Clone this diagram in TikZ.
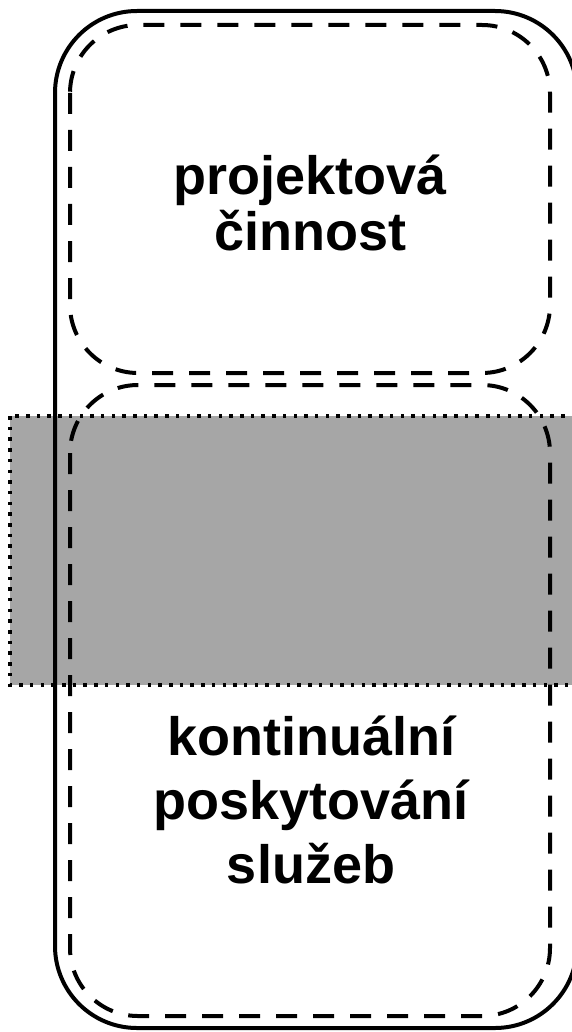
\documentclass[tikz,border=0pt]{standalone}
\usepackage{fontspec}
\setmainfont{Liberation Sans}
\definecolor{bandgray}{HTML}{A6A6A6}
% tight line spacing for the two labels
\newcommand{\projfont}{\bfseries\fontsize{54}{56}\selectfont\lineskiplimit=-100pt\relax}
\newcommand{\kontfont}{\bfseries\fontsize{54}{64}\selectfont\lineskiplimit=-100pt\relax}
\begin{document}
\begin{tikzpicture}[x=1pt,y=-1pt,
		dashbox/.style={line width=4pt, dash pattern=on 21pt off 16pt, rounded corners=68pt},
		boxtext/.style={align=center, anchor=base, inner sep=0pt}]
		\useasboundingbox (0,0) rectangle (572,1032);
		\coordinate (B0) at (10,416);
		\coordinate (B1) at (580,685);
		\draw[fill=bandgray, line width=3.5pt, dash pattern=on 3.5pt off 7.2pt](B0) rectangle (B1);
		\draw[line width=4pt, rounded corners=82pt](55,11) rectangle (577,1028);
		\draw[dashbox](70,25) rectangle (550,373);
		\draw[dashbox](70,385) rectangle (550,1016);
		% base anchor sits on the last line
		\node[boxtext, font=\projfont] (proj) at (310,251) {projektová\\činnost};
		\node[boxtext, font=\kontfont] (kont) at (311,883) {kontinuální\\poskytování\\služeb};
		\end{tikzpicture}
\end{document}
